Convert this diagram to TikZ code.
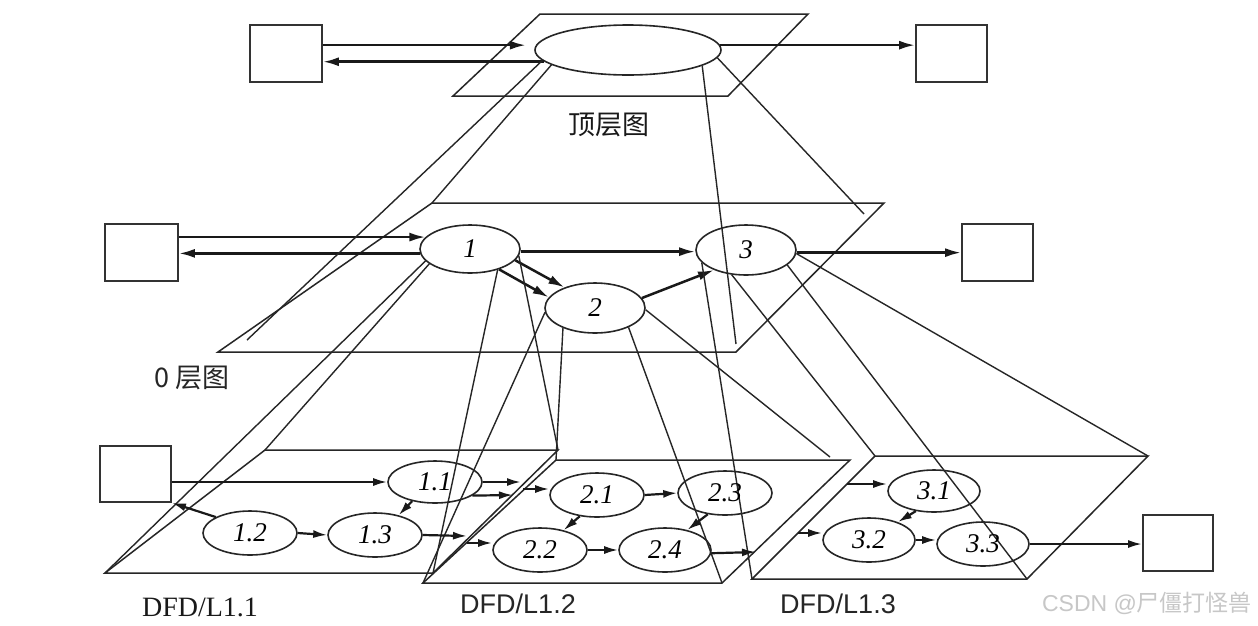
\documentclass[tikz,border=0pt]{standalone}
\usepackage{fontspec}
\setmainfont{Liberation Serif}
\newfontfamily\cjk{Noto Sans CJK SC}
\newfontfamily\arialf{Liberation Sans}
\usetikzlibrary{arrows.meta,shapes.geometric}
\begin{document}
\begin{tikzpicture}[x=1pt,y=-1pt,
  plane/.style={draw=black!85, line width=1.5pt, line join=miter},
  proj/.style={draw=black!85, line width=1.4pt},
  proc/.style={ellipse, draw=black!85, line width=1.6pt, inner sep=0pt,
    font=\fontsize{27}{27}\selectfont\itshape},
  ext/.style={rectangle, draw=black!80, line width=1.8pt, inner sep=0pt},
  arr/.style={draw=black!90, line width=2.5pt, -{Latex[length=16pt,width=9pt]}},
  sarr/.style={draw=black!90, line width=2.2pt, -{Latex[length=14pt,width=8pt]}},
  lab/.style={inner sep=0pt}
]
\useasboundingbox (0,0) rectangle (1258,625);
\fill[white] (0,0) rectangle (1258,625);

% ---------- planes ----------
\draw[plane] (540,14) coordinate (ta) -- (808,14) coordinate (tb) -- (728,96) coordinate (tc) -- (453,96) coordinate (td) -- cycle;
\draw[plane] (432,203) coordinate (p0a) -- (884,203) coordinate (p0b) -- (736,352) coordinate (p0c) -- (218,352) coordinate (p0d) -- cycle;
\draw[plane] (265,450) coordinate (p1a) -- (558,450) coordinate (p1b) -- (433,573) coordinate (p1c) -- (105,573) coordinate (p1d) -- cycle;
\draw[plane] (556,460) coordinate (q1a) -- (850,460) coordinate (q1b) -- (722,583) coordinate (q1c) -- (423,583) coordinate (q1d) -- cycle;
\draw[plane] (875,456) coordinate (r1a) -- (1148,456) coordinate (r1b) -- (1027,579) coordinate (r1c) -- (752,579) coordinate (r1d) -- cycle;

\coordinate (pA) at (247,340);
\coordinate (pC) at (736,344);
\coordinate (pD) at (864,214);
\coordinate (pE) at (830,457);

% ---------- top level ----------
\node[ext, minimum width=72pt, minimum height=57pt] (tlb) at (286,53.5) {};
\node[ext, minimum width=71pt, minimum height=57pt] (trb) at (951.5,53.5) {};
\node[proc, minimum width=186pt, minimum height=50pt] (T) at (628,50) {};
\node[lab, font=\cjk\fontsize{27}{27}\selectfont, text=black!90] (tl) at (609,125) {顶层图};

\draw[arr, shorten >=10pt] (tlb.east |- T.177) -- (T.177);
\draw[arr] (T.188) -- (T.188 -| tlb.east);
\draw[arr] (T.3) -- (T.3 -| trb.west);

% ---------- level 0 ----------
\node[ext, minimum width=73pt, minimum height=57pt] (lb0) at (141.5,252.5) {};
\node[ext, minimum width=71pt, minimum height=57pt] (rb0) at (997.5,252.5) {};
\node[proc, minimum width=100pt, minimum height=48pt] (e1) at (470,249) {1};
\node[proc, minimum width=100pt, minimum height=50pt] (e2) at (595,308) {2};
\node[proc, minimum width=100pt, minimum height=50pt] (e3) at (746,250) {3};
\node[lab, font=\cjk\fontsize{27}{27}\selectfont, text=black!85] (zl) at (192,378) {0 层图};

\draw[arr] (lb0.east |- e1.165) -- (e1.165);
\draw[arr] (e1.185) -- (e1.185 -| lb0.east);
\draw[arr] (e1.-3) -- (e1.-3 -| e3.west);
\draw[arr] (e1.-14) -- (e2.146);
\draw[arr] (e1.-35) -- (e2.167);
\draw[arr] (e2.12) -- (e3.212);
\draw[arr] (e3.-3) -- (e3.-3 -| rb0.west);

% projection lines top -> level 0
\draw[proj] (T.187) -- (pA);
\draw[proj] (T.191) -- (p0a);
\draw[proj] (T.348) -- (pC);
\draw[proj] (T.355) -- (pD);

% projection lines level 0 -> level 1
\draw[proj] (e1.195) -- (p1d);
\draw[proj] (e1.200) -- (p1a);
\draw[proj] (e1.-37) -- (p1c);
\draw[proj] (e1.-8) -- (p1b);
\draw[proj] (e2.185) -- (q1d);
\draw[proj] (e2.212) -- (q1a);
\draw[proj] (e2.-30) -- (q1c);
\draw[proj] (e2.-2) -- (pE);
\draw[proj] (e3.196) -- (r1d);
\draw[proj] (e3.240) -- (r1a);
\draw[proj] (e3.-20) -- (r1c);
\draw[proj] (e3.-4) -- (r1b);

% ---------- level 1 ----------
\node[ext, minimum width=71pt, minimum height=56pt] (lb1) at (135.5,474) {};
\node[ext, minimum width=70pt, minimum height=56pt] (rb1) at (1178,543) {};
\node[proc, minimum width=94pt, minimum height=42pt] (n11) at (435,482) {1.1};
\node[proc, minimum width=94pt, minimum height=44pt] (n12) at (250,533) {1.2};
\node[proc, minimum width=94pt, minimum height=44pt] (n13) at (375,535) {1.3};
\node[proc, minimum width=94pt, minimum height=44pt] (n21) at (597,495) {2.1};
\node[proc, minimum width=94pt, minimum height=44pt] (n22) at (540,550) {2.2};
\node[proc, minimum width=94pt, minimum height=44pt] (n23) at (725,493) {2.3};
\node[proc, minimum width=92pt, minimum height=44pt] (n24) at (665,550) {2.4};
\node[proc, minimum width=92pt, minimum height=42pt] (n31) at (934,491) {3.1};
\node[proc, minimum width=92pt, minimum height=44pt] (n32) at (869,540) {3.2};
\node[proc, minimum width=92pt, minimum height=44pt] (n33) at (983,544) {3.3};

\coordinate (s1) at (521,482);
\coordinate (s2) at (513,495);
\coordinate (s3) at (523,489);
\coordinate (s4) at (467,536);
\coordinate (s5) at (467,543);
\coordinate (s6) at (756,552);
\coordinate (s7) at (847,484);
\coordinate (s8) at (798,533);

\draw[sarr] (lb1.east |- n11.west) -- (n11.west);
\draw[sarr] (n12.155) -- (lb1.south east);
\draw[sarr] (n12.east) -- (n13.west);
\draw[sarr] (n11.220) -- (n13.40);
\draw[sarr] (n11.east) -- (s1);
\draw[sarr] (n11.-20) -- (s2);
\draw[sarr] (s3) -- (s3 -| n21.west);
\draw[sarr] (n13.east) -- (s4);
\draw[sarr] (s5) -- (s5 -| n22.west);
\draw[sarr] (n21.east) -- (n23.west);
\draw[sarr] (n22.east) -- (n24.west);
\draw[sarr] (n21.231) -- (n22.40);
\draw[sarr] (n23.231) -- (n24.42);
\draw[sarr] (n24.-4) -- (s6);
\draw[sarr] (s7) -- (s7 -| n31.west);
\draw[sarr] (s8) -- (s8 -| n32.west);
\draw[sarr] (n32.east) -- (n32.east -| n33.west);
\draw[sarr] (n31.228) -- (n32.32);
\draw[sarr] (n33.east) -- (n33.east -| rb1.west);

% ---------- labels ----------
\node[lab, font=\fontsize{28}{28}\selectfont, text=black!90] (d1) at (200,607) {DFD/L1.1};
\node[lab, font=\arialf\fontsize{27}{27}\selectfont, text=black!85] (d2) at (518,604) {DFD/L1.2};
\node[lab, font=\arialf\fontsize{27}{27}\selectfont, text=black!85] (d3) at (838,604) {DFD/L1.3};
\node[lab, font=\arialf\fontsize{23}{23}\selectfont, text=black!22] (wm) at (1147,603) {CSDN @{\cjk 尸僵打怪兽}};
\end{tikzpicture}
\end{document}
